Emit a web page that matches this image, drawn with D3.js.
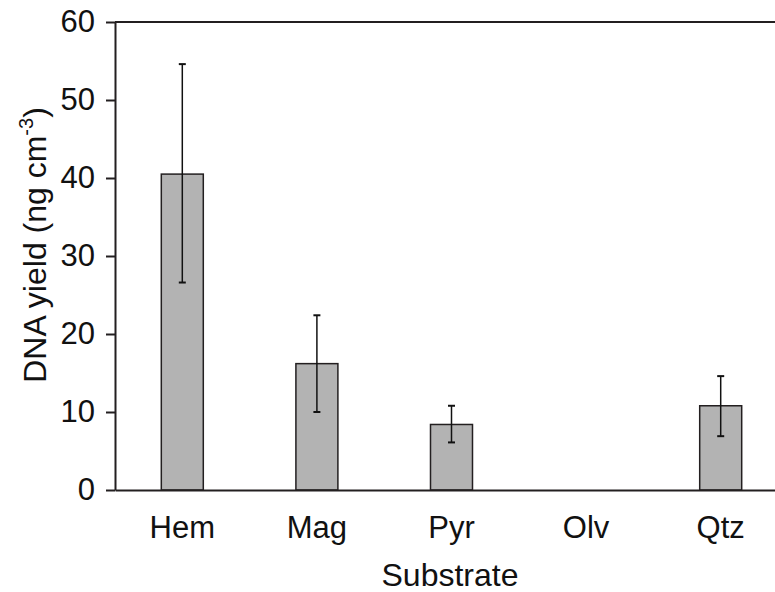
<!DOCTYPE html>
<html>
<head>
<meta charset="utf-8">
<script src="https://cdn.jsdelivr.net/npm/d3@7"></script>
<style>
  body { margin: 0; background: #fff; }
  text { font-family: "Liberation Sans", Arial, sans-serif; fill: #111; }
</style>
</head>
<body>
<div id="chart"></div>
<script>
// substrates and DNA yield (ng cm^-3), with error bar ends
const substrates = ['Hem', 'Mag', 'Pyr', 'Olv', 'Qtz'];
const yieldMeans = [40.5, 16.2, 8.4, 0, 10.8];
const errLow = [26.6, 10.0, 6.1, 0, 6.9];
const errHigh = [54.6, 22.4, 10.8, 0, 14.6];
const yTicks = [0, 10, 20, 30, 40, 50, 60];

const data = substrates.map((s, i) => ({
    name: s,
    value: yieldMeans[i],
    lo: errLow[i],
    hi: errHigh[i]
}));

const width = 775, height = 592;
const margin = {top: 22, left: 115};
const plotW = 673, plotH = 468;
const ink = '#231f20';

const svg = d3.select('#chart').append('svg')
    .attr('width', width)
    .attr('height', height);

const chart = svg.append('g')
    .attr('transform', `translate(${margin.left},${margin.top})`);

const xScale = d3.scaleBand()
    .domain(substrates)
    .range([0, plotW])
    .paddingInner(0.688)
    .paddingOuter(0.344);

const yScale = d3.scaleLinear()
    .domain([0, 60])
    .range([plotH, 0]);

// top frame line
chart.append('line')
    .attr('x1', 0).attr('x2', plotW)
    .attr('y1', yScale(60)).attr('y2', yScale(60))
    .attr('stroke', ink)
    .attr('stroke-width', 2);

// bars
chart.selectAll('.bar')
    .data(data.filter(d => d.value > 0))
    .join('rect')
    .attr('class', 'bar')
    .attr('x', d => xScale(d.name))
    .attr('y', d => yScale(d.value))
    .attr('width', xScale.bandwidth())
    .attr('height', d => yScale(0) - yScale(d.value))
    .attr('fill', '#b3b3b3')
    .attr('stroke', ink)
    .attr('stroke-width', 1.5);

// error bars
const errG = chart.selectAll('.err')
    .data(data.filter(d => d.hi > d.lo))
    .join('g')
    .attr('class', 'err')
    .attr('transform', d => `translate(${xScale(d.name) + xScale.bandwidth() / 2},0)`);

errG.append('line')
    .attr('y1', d => yScale(d.lo))
    .attr('y2', d => yScale(d.hi))
    .attr('stroke', '#111')
    .attr('stroke-width', 1.5);

errG.selectAll('.cap')
    .data(d => [d.lo, d.hi])
    .join('line')
    .attr('class', 'cap')
    .attr('x1', -3.5).attr('x2', 3.5)
    .attr('y1', d => yScale(d)).attr('y2', d => yScale(d))
    .attr('stroke', '#111')
    .attr('stroke-width', 2);

// axes
const yAxis = d3.axisLeft(yScale)
    .tickValues(yTicks)
    .tickSize(9)
    .tickSizeOuter(0)
    .tickPadding(11);

const xAxis = d3.axisBottom(xScale)
    .tickSize(0)
    .tickSizeOuter(0)
    .tickPadding(26);

const yAxisG = chart.append('g').call(yAxis);
const xAxisG = chart.append('g')
    .attr('transform', `translate(0,${plotH})`)
    .call(xAxis);

[yAxisG, xAxisG].forEach(g => {
    g.selectAll('path, line').attr('stroke', ink).attr('stroke-width', 2);
    g.selectAll('text')
        .attr('font-family', '"Liberation Sans", Arial, sans-serif')
        .attr('font-size', 31)
        .attr('fill', '#111');
});

// axis titles
svg.append('text')
    .attr('x', 450)
    .attr('y', 586)
    .attr('text-anchor', 'middle')
    .attr('font-size', 32)
    .text('Substrate');

const yTitle = svg.append('text')
    .attr('transform', 'translate(46,245) rotate(-90)')
    .attr('text-anchor', 'middle')
    .attr('font-size', 32);
yTitle.append('tspan').text('DNA yield (ng cm');
yTitle.append('tspan').attr('font-size', 20).attr('dy', -13).text('-3');
yTitle.append('tspan').attr('dy', 13).text(')');
</script>
</body>
</html>
